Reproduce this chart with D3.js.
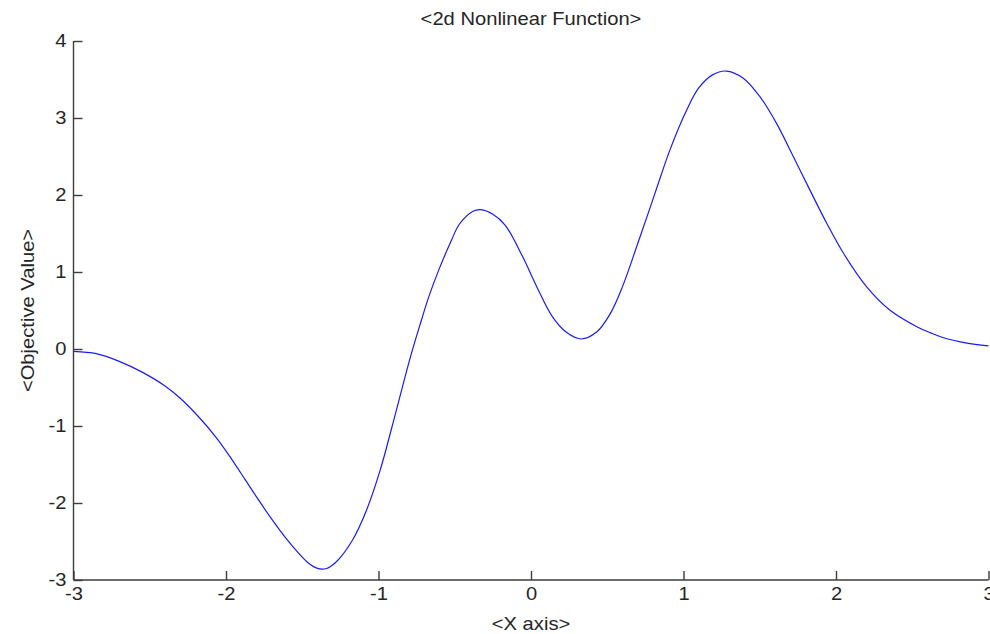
<!DOCTYPE html>
<html>
<head>
<meta charset="utf-8">
<script src="https://cdn.jsdelivr.net/npm/d3@7"></script>
<style>
  html, body { margin: 0; padding: 0; background: #fff; }
  svg { display: block; }
  text { font-family: Arial, "Liberation Sans", sans-serif; fill: #262626; }
</style>
</head>
<body>
<svg id="chart" width="990" height="634"></svg>
<script>
const xValues = [-3.00, -2.85, -2.70, -2.55, -2.40, -2.30, -2.18, -2.06, -1.96, -1.87, -1.78, -1.70, -1.61, -1.52, -1.46, -1.40, -1.34, -1.28, -1.17, -1.08, -0.99, -0.91, -0.79, -0.73, -0.67, -0.60, -0.52, -0.47, -0.38, -0.33, -0.25, -0.17, -0.06, 0.04, 0.14, 0.23, 0.33, 0.43, 0.52, 0.60, 0.70, 0.78, 0.85, 0.91, 1.02, 1.10, 1.19, 1.28, 1.39, 1.50, 1.61, 1.72, 1.83, 1.94, 2.05, 2.20, 2.35, 2.53, 2.62, 2.70, 2.85, 3.00];
const yValues = [-0.03, -0.06, -0.16, -0.30, -0.48, -0.64, -0.88, -1.16, -1.44, -1.71, -1.98, -2.21, -2.45, -2.66, -2.78, -2.85, -2.85, -2.77, -2.48, -2.10, -1.58, -1.00, -0.10, 0.30, 0.68, 1.05, 1.42, 1.62, 1.79, 1.81, 1.75, 1.61, 1.22, 0.80, 0.42, 0.22, 0.13, 0.22, 0.46, 0.81, 1.37, 1.83, 2.24, 2.58, 3.10, 3.39, 3.56, 3.61, 3.52, 3.28, 2.93, 2.50, 2.06, 1.63, 1.24, 0.81, 0.51, 0.29, 0.21, 0.15, 0.08, 0.04];
const xTicks = [-3, -2, -1, 0, 1, 2, 3];
const yTicks = [-3, -2, -1, 0, 1, 2, 3, 4];
const titleText = "<2d Nonlinear Function>";
const xLabelText = "<X axis>";
const yLabelText = "<Objective Value>";

const svg = d3.select("#chart");
const mLeft = 73.5, mRight = 988.5, mTop = 41, mBottom = 580;
const x = d3.scaleLinear().domain([-3, 3]).range([mLeft, mRight]);
const y = d3.scaleLinear().domain([-3, 4]).range([mBottom, mTop]);
const axisColor = "#3c3c3c";
const fontSize = 18;
const stretch = 1.12;
const fontFam = "Arial, 'Liberation Sans', sans-serif";

// curve
const pts = xValues.map((v, i) => [v, yValues[i]]);
svg.append("path")
  .datum(pts)
  .attr("fill", "none")
  .attr("stroke", "#1a1aff")
  .attr("stroke-width", 1.2)
  .attr("d", d3.line().x(d => x(d[0])).y(d => y(d[1])).curve(d3.curveCatmullRom.alpha(0.5)));

// x axis
const gx = svg.append("g").attr("transform", `translate(0,${mBottom})`)
  .call(d3.axisBottom(x).tickValues(xTicks).tickSize(-9).tickPadding(18).tickFormat(d => String(d)));
gx.select(".domain").attr("stroke", axisColor).attr("stroke-width", 1.4).attr("d", `M${mLeft},0H${mRight}`);
gx.selectAll(".tick line").attr("stroke", axisColor).attr("stroke-width", 1.4);
gx.selectAll(".tick text").attr("font-size", fontSize).attr("font-family", fontFam).attr("fill", "#262626")
  .attr("dy", "0.1em").attr("transform", `scale(${stretch},1)`);

// y axis
const gy = svg.append("g").attr("transform", `translate(${mLeft},0)`)
  .call(d3.axisLeft(y).tickValues(yTicks).tickSize(-9).tickPadding(7).tickFormat(d => String(d)));
gy.select(".domain").attr("stroke", axisColor).attr("stroke-width", 1.4).attr("d", `M0,${mTop}V${mBottom}`);
gy.selectAll(".tick line").attr("stroke", axisColor).attr("stroke-width", 1.4);
gy.selectAll(".tick text").attr("font-size", fontSize).attr("font-family", fontFam).attr("fill", "#262626")
  .attr("x", -7 / stretch).attr("transform", `scale(${stretch},1)`);

// title and labels
svg.append("text").attr("transform", `translate(${(mLeft + mRight) / 2},25) scale(${stretch},1)`)
  .attr("text-anchor", "middle").attr("font-size", fontSize).text(titleText);
svg.append("text").attr("transform", `translate(${(mLeft + mRight) / 2},630) scale(${stretch},1)`)
  .attr("text-anchor", "middle").attr("font-size", fontSize).text(xLabelText);
svg.append("text").attr("transform", `translate(34,${(mTop + mBottom) / 2}) rotate(-90) scale(${stretch},1)`)
  .attr("text-anchor", "middle").attr("font-size", fontSize).text(yLabelText);
</script>
</body>
</html>
